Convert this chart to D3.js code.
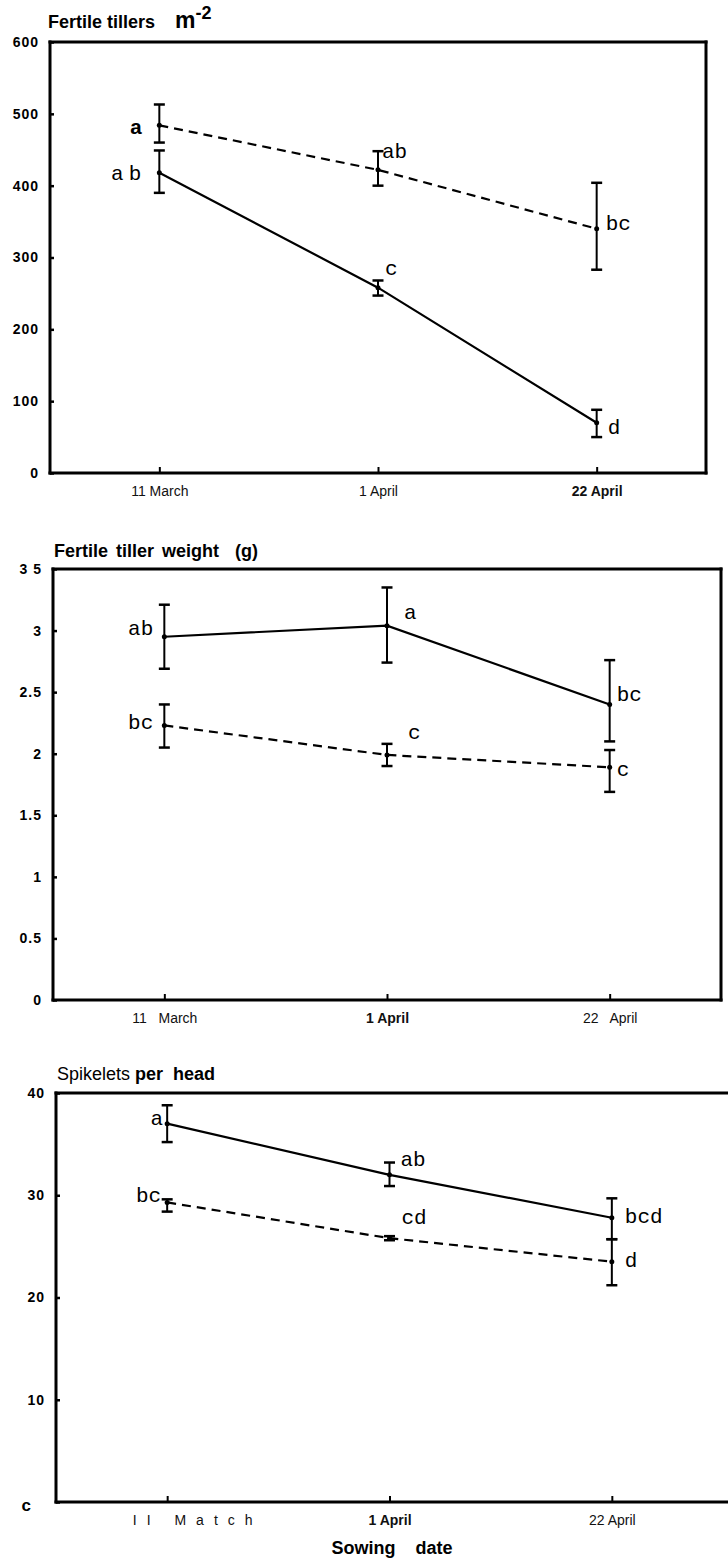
<!DOCTYPE html>
<html>
<head>
<meta charset="utf-8">
<script src="https://cdn.jsdelivr.net/npm/d3@7"></script>
<style>
  body { margin: 0; background: #fff; }
</style>
</head>
<body>
<div id="chart-area"></div>
<script>
//============================DATA============================
var sowingDates = ["11 March", "1 April", "22 April"];

// Fertile tillers m-2
var tillersSolid = [418, 258, 70];
var tillersSolidLow = [390, 247, 50];
var tillersSolidHigh = [449, 268, 88];
var tillersSolidLetters = ["ab", "c", "d"];
var tillersDashed = [484, 422, 340];
var tillersDashedLow = [460, 400, 283];
var tillersDashedHigh = [513, 448, 404];
var tillersDashedLetters = ["a", "ab", "bc"];
var tillersTicks = [0, 100, 200, 300, 400, 500, 600];
var tillersTickLabels = ["0", "100", "200", "300", "400", "500", "600"];
var tillersDateLabels = ["11 March", "1 April", "22 April"];

// Fertile tiller weight (g)
var weightSolid = [2.95, 3.04, 2.40];
var weightSolidLow = [2.69, 2.74, 2.10];
var weightSolidHigh = [3.21, 3.35, 2.76];
var weightSolidLetters = ["ab", "a", "bc"];
var weightDashed = [2.23, 1.99, 1.89];
var weightDashedLow = [2.05, 1.90, 1.69];
var weightDashedHigh = [2.40, 2.08, 2.03];
var weightDashedLetters = ["bc", "c", "c"];
var weightTicks = [0, 0.5, 1, 1.5, 2, 2.5, 3, 3.5];
var weightTickLabels = ["0", "0.5", "1", "1.5", "2", "2.5", "3", "3 5"];
var weightDateLabels = ["11   March", "1 April", "22   April"];

// Spikelets per head
var spikeSolid = [37.0, 32.0, 27.8];
var spikeSolidLow = [35.2, 30.9, 25.7];
var spikeSolidHigh = [38.8, 33.2, 29.7];
var spikeSolidLetters = ["a", "ab", "bcd"];
var spikeDashed = [29.3, 25.8, 23.5];
var spikeDashedLow = [28.4, 25.6, 21.2];
var spikeDashedHigh = [29.6, 26.0, 25.7];
var spikeDashedLetters = ["bc", "cd", "d"];
var spikeTicks = [0, 10, 20, 30, 40];
var spikeTickLabels = ["c", "10", "20", "30", "40"];
var spikeDateLabels = ["II Match", "1 April", "22 April"];

//============================LAYOUT============================
var svg = d3.select("#chart-area")
    .append("svg")
    .attr("width", 728)
    .attr("height", 1564);

var letterFont = "'Liberation Mono', 'DejaVu Sans Mono', monospace";
var sansFont = "'Liberation Sans', Arial, sans-serif";

// letter offsets from each point: [dx, dy, anchor, weight, letter-spacing]
var panels = [
  {
    top: 42, bottom: 473, left: 50, right: 706, rightBorder: true,
    yDomain: [0, 600], ticks: tillersTicks, tickLabels: tillersTickLabels,
    dateLabels: tillersDateLabels, dateWeights: ["normal", "normal", "bold"],
    dateSpacing: ["0", "0", "0"], dateShift: [0, 0, 0],
    series: [
      { v: tillersDashed, lo: tillersDashedLow, hi: tillersDashedHigh, letters: tillersDashedLetters, dashed: true,
        place: [[-17, 9, "end", "bold"], [4, -12, "start"], [9, 1, "start"]] },
      { v: tillersSolid, lo: tillersSolidLow, hi: tillersSolidHigh, letters: tillersSolidLetters, dashed: false,
        place: [[-13, 7, "end", "normal", "5px"], [7, -13, "start"], [11, 11, "start"]] }
    ]
  },
  {
    top: 569, bottom: 1000, left: 53, right: 721, rightBorder: true,
    yDomain: [0, 3.5], ticks: weightTicks, tickLabels: weightTickLabels,
    dateLabels: weightDateLabels, dateWeights: ["normal", "bold", "normal"],
    dateSpacing: ["0", "0", "0"], dateShift: [0, 0, 0],
    series: [
      { v: weightSolid, lo: weightSolidLow, hi: weightSolidHigh, letters: weightSolidLetters, dashed: false,
        place: [[-11, -2, "end"], [17, -7, "start"], [7, -3, "start"]] },
      { v: weightDashed, lo: weightDashedLow, hi: weightDashedHigh, letters: weightDashedLetters, dashed: true,
        place: [[-11, 4, "end"], [21, -16, "start"], [7, 9, "start"]] }
    ]
  },
  {
    top: 1093, bottom: 1502, left: 56, right: 723, rightBorder: false,
    yDomain: [0, 40], ticks: spikeTicks, tickLabels: spikeTickLabels,
    dateLabels: spikeDateLabels, dateWeights: ["normal", "bold", "normal"],
    dateSpacing: ["10px", "0", "0"], dateShift: [30, 0, 0],
    series: [
      { v: spikeSolid, lo: spikeSolidLow, hi: spikeSolidHigh, letters: spikeSolidLetters, dashed: false,
        place: [[-4, 1, "end"], [11, -9, "start"], [13, 5, "start"]] },
      { v: spikeDashed, lo: spikeDashedLow, hi: spikeDashedHigh, letters: spikeDashedLetters, dashed: true,
        place: [[-6, 0, "end"], [12, -14, "start"], [13, 5, "start"]] }
    ]
  }
];

//============================DRAW============================
panels.forEach(function(p, pi) {
  var x = d3.scalePoint().domain(sowingDates).range([p.left, p.right]).padding(0.5);
  var y = d3.scaleLinear().domain(p.yDomain).range([p.bottom, p.top]);
  var g = svg.append("g");

  // y axis
  var yAxis = g.append("g")
      .attr("transform", "translate(" + p.left + ",0)")
      .call(d3.axisLeft(y)
          .tickValues(p.ticks)
          .tickFormat(function(d, i) { return p.tickLabels[i]; })
          .tickSizeInner(-4).tickSizeOuter(0).tickPadding(11));
  yAxis.select(".domain").remove();
  yAxis.selectAll(".tick line").attr("stroke", "#000").attr("stroke-width", 2.5);
  yAxis.selectAll(".tick text")
      .attr("fill", "#000")
      .style("font-family", sansFont)
      .style("font-size", "14px")
      .style("font-weight", "bold")
      .style("letter-spacing", "1px");
  if (pi === 2) {
    yAxis.selectAll(".tick text").filter(function(d) { return d === 0; })
        .attr("x", -24).attr("dy", "0.5em").style("font-size", "17px");
  }

  // x axis
  var xAxis = g.append("g")
      .attr("transform", "translate(0," + p.bottom + ")")
      .call(d3.axisBottom(x)
          .tickFormat(function(d, i) { return p.dateLabels[i]; })
          .tickSizeInner(-6).tickSizeOuter(0).tickPadding(13));
  xAxis.select(".domain").remove();
  xAxis.selectAll(".tick line").attr("stroke", "#000").attr("stroke-width", 2);
  xAxis.selectAll(".tick text")
      .attr("fill", "#111")
      .attr("dx", function(d, i) { return p.dateShift[i]; })
      .style("font-family", sansFont)
      .style("font-size", "14px")
      .style("white-space", "pre")
      .style("letter-spacing", function(d, i) { return p.dateSpacing[i]; })
      .style("font-weight", function(d, i) { return p.dateWeights[i]; });

  // frame
  var frame = g.append("g").attr("stroke", "#000").attr("stroke-width", 3).attr("stroke-linecap", "square");
  frame.append("line").attr("x1", p.left).attr("x2", p.left).attr("y1", p.top).attr("y2", p.bottom);
  frame.append("line").attr("x1", p.left).attr("x2", p.rightBorder ? p.right : 728).attr("y1", p.top).attr("y2", p.top);
  frame.append("line").attr("x1", p.left).attr("x2", p.rightBorder ? p.right : 728).attr("y1", p.bottom).attr("y2", p.bottom);
  if (p.rightBorder) {
    frame.append("line").attr("x1", p.right).attr("x2", p.right).attr("y1", p.top).attr("y2", p.bottom);
  }

  // series
  p.series.forEach(function(s) {
    var line = d3.line()
        .x(function(d, i) { return x(sowingDates[i]); })
        .y(function(d) { return y(d); });

    g.append("path")
        .datum(s.v)
        .attr("d", line)
        .attr("fill", "none")
        .attr("stroke", "#000")
        .attr("stroke-width", 2.2)
        .attr("stroke-dasharray", s.dashed ? "9,6" : null);

    s.v.forEach(function(v, i) {
      var cx = x(sowingDates[i]);
      var eb = g.append("g").attr("stroke", "#000");
      eb.append("line").attr("x1", cx).attr("x2", cx).attr("y1", y(s.lo[i])).attr("y2", y(s.hi[i])).attr("stroke-width", 2);
      [s.lo[i], s.hi[i]].forEach(function(e) {
        eb.append("line").attr("x1", cx - 5.5).attr("x2", cx + 5.5).attr("y1", y(e)).attr("y2", y(e)).attr("stroke-width", 2.5);
      });
      g.append("circle").attr("cx", cx).attr("cy", y(v)).attr("r", 2.5).attr("fill", "#000");

      var pl = s.place[i];
      g.append("text")
          .attr("x", cx + pl[0])
          .attr("y", y(v) + pl[1])
          .attr("text-anchor", pl[2])
          .style("font-family", letterFont)
          .style("font-size", "21px")
          .style("font-weight", pl[3] || "normal")
          .style("letter-spacing", pl[4] || "0")
          .text(s.letters[i]);
    });
  });
});

// Titles
var t1 = svg.append("text")
    .attr("x", 48).attr("y", 28)
    .style("font-family", sansFont).style("font-size", "18px").style("font-weight", "bold")
    .style("white-space", "pre");
t1.append("tspan").text("Fertile tillers    ");
t1.append("tspan").style("font-size", "23px").text("m");
t1.append("tspan").attr("dy", -9).style("font-size", "18px").text("-2");

svg.append("text")
    .attr("x", 54).attr("y", 557)
    .style("font-family", sansFont).style("font-size", "18px").style("font-weight", "bold")
    .style("word-spacing", "3px").style("white-space", "pre")
    .text("Fertile tiller weight  (g)");

var t3 = svg.append("text")
    .attr("x", 57).attr("y", 1080)
    .style("font-family", sansFont).style("font-size", "18px").style("white-space", "pre");
t3.append("tspan").text("Spikelets ");
t3.append("tspan").style("font-weight", "bold").text("per  head");

// x axis title
svg.append("text")
    .attr("x", 392).attr("y", 1554)
    .attr("text-anchor", "middle")
    .style("font-family", sansFont).style("font-size", "18px").style("font-weight", "bold")
    .style("white-space", "pre")
    .text("Sowing    date");
</script>
</body>
</html>
